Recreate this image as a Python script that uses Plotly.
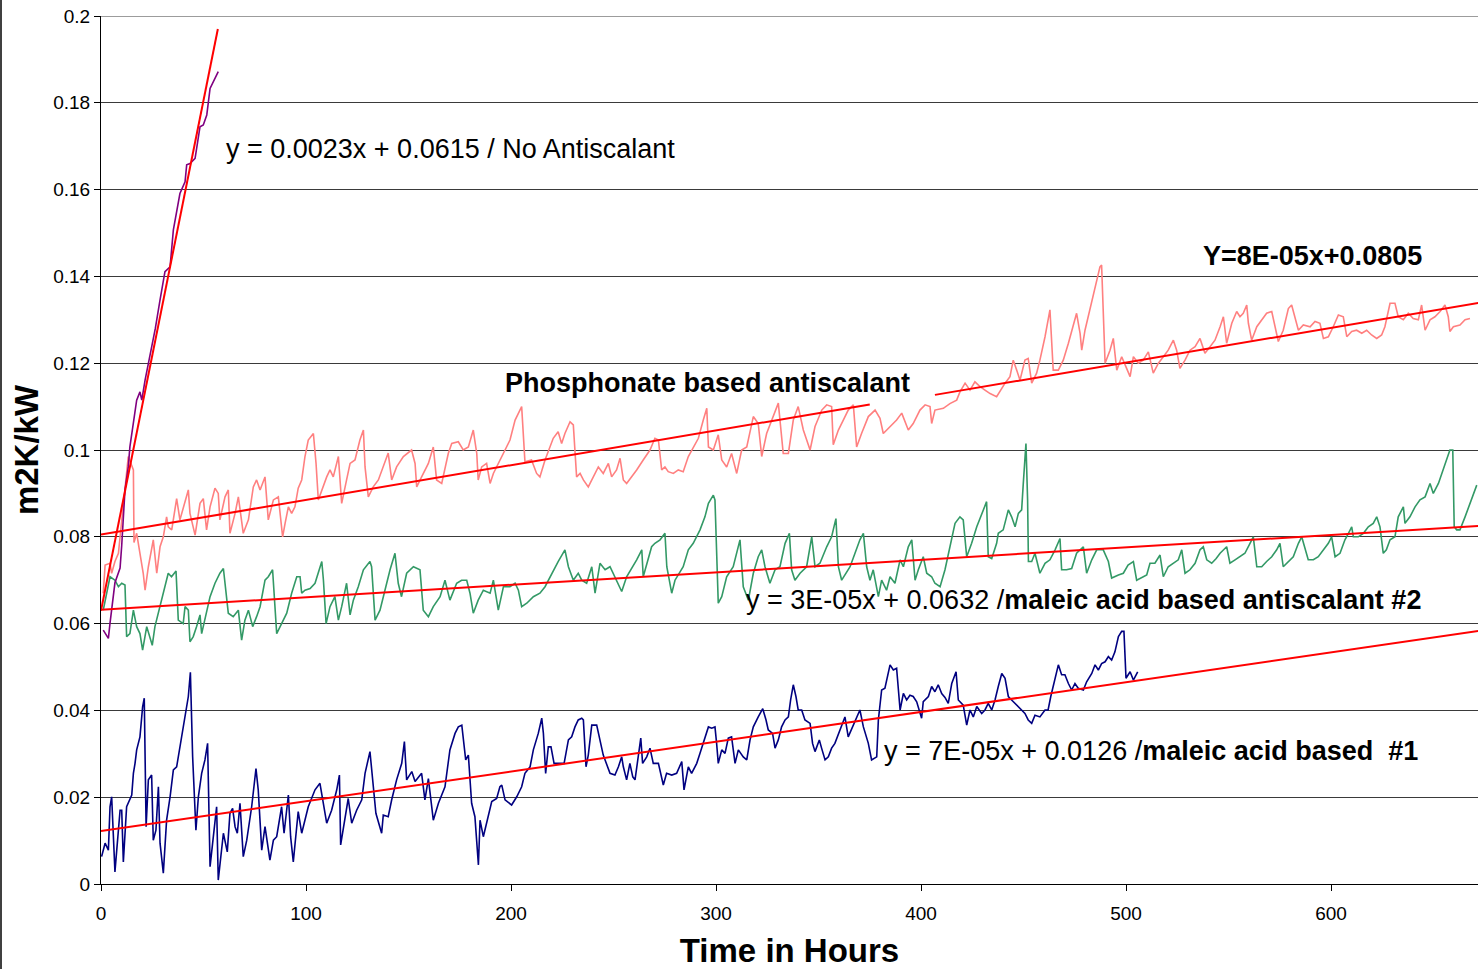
import plotly.graph_objects as go

# ---------------- data ----------------
no_anti_x = [1.1, 3.6, 4.4, 6.8, 9.3, 10.1, 11.7, 13.3, 14.1, 15.8, 17.4, 19.0, 19.9, 21.5, 24.0, 26.5,
             28.8, 31.2, 33.7, 35.3, 38.5, 41.0, 41.8, 43.4, 45.9, 47.5, 48.3, 49.9, 51.6, 53.2, 54.8, 57.2]
no_anti_y = [0.0585, 0.0566, 0.0601, 0.0694, 0.0728, 0.078, 0.0908, 0.0961, 0.1007, 0.1061, 0.1115, 0.1134,
             0.1115, 0.1161, 0.122, 0.128, 0.1346, 0.1411, 0.1422, 0.1507, 0.1591, 0.1618, 0.1657, 0.1660,
             0.1672, 0.1722, 0.1745, 0.1749, 0.1772, 0.1833, 0.1848, 0.1872]

phos_x = [1.1, 2.0, 4.4, 5.2, 6.8, 8.5, 13.3, 15.8, 16.1, 17.4, 19.0, 20.6, 21.5, 23.1, 25.5, 27.2, 28.8,
          30.4, 32.0, 32.8, 34.5, 36.9, 38.5, 41.0, 42.6, 43.4, 45.9, 48.3, 49.9, 51.5, 53.2, 55.6, 57.2,
          58.0, 60.5, 62.1, 62.9, 65.4, 67.0, 69.4, 71.9, 74.3, 75.9, 77.6, 80.0, 81.6, 84.1, 86.5, 87.3,
          88.6, 89.8, 91.4, 93.0, 94.6, 96.2, 97.9, 99.5, 101.1, 103.6, 104.9, 106.0, 107.7, 110.1, 111.7,
          113.3, 115.8, 117.4, 119.8, 121.5, 123.9, 126.3, 128.0, 128.8, 130.4, 132.8, 135.3, 137.7, 140.1,
          141.8, 144.2, 147.5, 151.5, 153.2, 154.0, 156.4, 159.7, 162.1, 163.7, 166.2, 169.4, 171.1, 174.3,
          176.7, 179.2, 181.6, 183.3, 184.0, 185.7, 188.1, 189.8, 191.4, 193.8, 196.3, 199.5, 202.0, 205.2,
          206.8, 210.0, 212.5, 214.1, 216.6, 220.6, 223.0, 224.7, 226.3, 228.8, 230.4, 232.0, 233.7, 235.3,
          237.7, 240.1, 242.6, 245.0, 247.5, 249.1, 251.5, 253.2, 254.8, 256.4, 258.9, 261.3, 264.5, 267.8,
          270.2, 271.9, 273.5, 275.1, 276.7, 279.2, 281.6, 284.0, 286.5, 288.9, 291.4, 293.8, 295.5, 296.3,
          298.7, 301.1, 302.8, 305.2, 307.6, 310.1, 312.5, 315.0, 318.2, 320.6, 322.3, 324.7, 328.0, 330.4,
          332.8, 335.3, 337.7, 340.1, 342.6, 345.9, 348.3, 351.6, 354.0, 356.4, 357.2, 359.7, 362.1, 364.5,
          367.0, 368.6, 371.0, 374.3, 377.6, 380.0, 381.6, 384.9, 388.1, 390.6, 393.8, 396.2, 399.5, 402.0,
          404.4, 405.2, 406.8, 410.9, 414.1, 417.4, 419.0, 421.5, 423.9, 426.3, 428.8, 431.2, 433.7, 436.9,
          439.4, 441.0, 443.4, 445.0, 446.7, 448.3, 450.7, 452.3, 454.0, 456.4, 458.0, 460.5, 462.9, 464.5,
          467.0, 469.4, 471.9, 474.3, 475.9, 477.6, 478.4, 480.0, 482.4, 484.9, 487.3, 488.1, 488.9, 489.8,
          492.2, 493.8, 495.5, 497.9, 500.3, 502.0, 503.6, 506.0, 508.4, 510.9, 513.3, 515.8, 518.2, 520.6,
          523.1, 524.7, 526.3, 528.8, 531.2, 533.7, 536.1, 538.5, 541.0, 543.4, 545.9, 547.5, 549.1, 551.6,
          554.0, 555.6, 557.2, 558.9, 559.7, 561.3, 563.8, 566.2, 568.6, 571.1, 572.7, 574.3, 576.7, 579.2,
          580.8, 582.4, 584.1, 586.5, 589.8, 592.2, 594.6, 596.3, 598.7, 601.1, 603.6, 606.0, 607.7, 610.1,
          612.5, 615.0, 617.4, 619.8, 622.3, 624.7, 626.3, 628.8, 631.2, 632.8, 635.3, 637.7, 640.1, 642.6,
          644.2, 645.9, 648.3, 650.7, 653.2, 655.6, 657.2, 658.0, 659.7, 662.9, 665.4, 667.8]
phos_y = [0.067, 0.0735, 0.0739, 0.0716, 0.0743, 0.0762, 0.0985, 0.0954, 0.0787, 0.0808, 0.0762, 0.0716,
          0.0677, 0.0731, 0.0793, 0.0716, 0.0777, 0.0800, 0.0846, 0.0823, 0.0816, 0.0888, 0.0839, 0.0885,
          0.0908, 0.0854, 0.0804, 0.0877, 0.0888, 0.0816, 0.0869, 0.0912, 0.0900, 0.0839, 0.0892, 0.0908,
          0.0808, 0.0854, 0.0892, 0.0808, 0.0839, 0.0915, 0.0931, 0.0908, 0.0938, 0.0839, 0.0885, 0.0892,
          0.0854, 0.0800, 0.0831, 0.0869, 0.0854, 0.0869, 0.0912, 0.0931, 0.0985, 0.1023, 0.1038, 0.0969,
          0.0885, 0.0908, 0.0938, 0.0954, 0.0938, 0.0985, 0.0877, 0.0931, 0.0969, 0.0977, 0.1023, 0.1046,
          0.0961, 0.0892, 0.0915, 0.0931, 0.0961, 0.0993, 0.0931, 0.0961, 0.0985, 0.1000, 0.0969, 0.0915,
          0.0938, 0.0969, 0.1007, 0.0931, 0.0923, 0.0992, 0.1015, 0.1019, 0.1000, 0.1007, 0.1046, 0.0992,
          0.0931, 0.0961, 0.0969, 0.0923, 0.0946, 0.0969, 0.0992, 0.1023, 0.1069, 0.1100, 0.0973, 0.0977,
          0.0946, 0.0938, 0.0977, 0.1027, 0.1042, 0.1015, 0.1038, 0.1065, 0.1058, 0.0938, 0.0946, 0.0931,
          0.0915, 0.0938, 0.0961, 0.0946, 0.0969, 0.0938, 0.0954, 0.0981, 0.0931, 0.0923, 0.0938, 0.0954,
          0.0977, 0.1000, 0.1027, 0.1023, 0.0954, 0.0961, 0.0950, 0.0946, 0.0954, 0.0950, 0.0985, 0.1007,
          0.1027, 0.1069, 0.1096, 0.1007, 0.1000, 0.1035, 0.0977, 0.0961, 0.0992, 0.0946, 0.1000, 0.1007,
          0.1077, 0.1061, 0.0985, 0.1038, 0.1077, 0.1108, 0.0992, 0.0992, 0.1069, 0.1100, 0.1046, 0.1000,
          0.1054, 0.1092, 0.1104, 0.1100, 0.1012, 0.1046, 0.1069, 0.1092, 0.1104, 0.1007, 0.1038, 0.1077,
          0.1092, 0.1073, 0.1038, 0.1054, 0.1069, 0.1085, 0.1046, 0.1061, 0.1092, 0.1104, 0.1100, 0.1061,
          0.1092, 0.1096, 0.1107, 0.1115, 0.1134, 0.1154, 0.1138, 0.1157, 0.1146, 0.1138, 0.1130, 0.1123,
          0.1142, 0.1154, 0.1169, 0.1207, 0.1184, 0.1161, 0.1207, 0.1211, 0.1154, 0.1177, 0.1207, 0.1261,
          0.1323, 0.1184, 0.1184, 0.1207, 0.1246, 0.1284, 0.1315, 0.1269, 0.1230, 0.1276, 0.1323, 0.1376,
          0.1422, 0.1426, 0.1307, 0.1200, 0.1230, 0.1257, 0.1184, 0.1215, 0.1188, 0.1169, 0.1215, 0.1200,
          0.1207, 0.1226, 0.1177, 0.1200, 0.1215, 0.1230, 0.1253, 0.1230, 0.1188, 0.1207, 0.1230, 0.1238,
          0.1257, 0.1223, 0.1238, 0.1253, 0.1284, 0.1307, 0.1246, 0.1292, 0.1319, 0.1307, 0.1315, 0.1334,
          0.1292, 0.1253, 0.1284, 0.1300, 0.1315, 0.1319, 0.1284, 0.1250, 0.1276, 0.1326, 0.1334, 0.1307,
          0.1276, 0.1288, 0.1284, 0.1296, 0.1292, 0.1257, 0.1261, 0.1284, 0.1311, 0.1307, 0.1261, 0.1273,
          0.1276, 0.1269, 0.1276, 0.1265, 0.1257, 0.1265, 0.1284, 0.1338, 0.1338, 0.1307, 0.1300, 0.1315,
          0.1303, 0.1300, 0.1334, 0.1276, 0.1300, 0.1307, 0.1319, 0.1334, 0.1307, 0.1273, 0.1284, 0.1288,
          0.1300, 0.1303]

mal2_x = [1.1, 2.8, 4.4, 6.8, 8.5, 10.1, 11.7, 12.5, 14.1, 15.8, 17.4, 19.0, 20.3, 22.3, 23.9, 25.0, 26.3,
          28.8, 31.2, 32.8, 34.4, 36.6, 37.7, 40.1, 41.0, 42.6, 43.4, 45.0, 46.6, 48.3, 49.1, 51.5, 53.2,
          55.6, 58.0, 59.7, 62.1, 64.5, 67.0, 68.6, 70.2, 71.9, 74.0, 75.9, 77.6, 80.0, 81.6, 83.7, 84.9,
          85.7, 88.1, 90.6, 93.0, 95.5, 97.1, 97.9, 99.5, 102.0, 104.4, 106.0, 107.7, 108.5, 109.8, 111.7,
          114.1, 115.8, 117.4, 119.8, 121.5, 123.1, 125.5, 128.0, 131.2, 132.0, 133.7, 136.1, 138.5, 141.0,
          143.4, 145.0, 146.6, 149.1, 152.4, 155.6, 157.2, 159.7, 162.1, 165.4, 167.8, 170.2, 173.5, 175.9,
          178.4, 180.0, 181.6, 184.0, 186.5, 189.8, 191.4, 193.8, 196.3, 199.5, 202.0, 203.6, 205.2, 207.7,
          210.9, 214.1, 216.6, 218.2, 220.6, 223.0, 226.3, 228.0, 230.4, 232.8, 234.5, 236.9, 239.4, 241.0,
          243.4, 245.9, 248.3, 250.7, 254.0, 256.4, 258.9, 261.3, 263.8, 264.5, 268.6, 270.2, 272.7, 275.1,
          276.0, 278.4, 280.0, 284.0, 286.5, 288.9, 292.2, 294.6, 296.3, 298.7, 299.5, 301.1, 302.8, 305.2,
          308.4, 310.9, 311.7, 313.3, 315.8, 318.2, 320.6, 322.3, 323.9, 326.3, 328.8, 331.2, 333.7, 335.8,
          336.9, 338.5, 341.0, 344.2, 346.7, 348.3, 350.7, 354.0, 356.4, 358.5, 359.7, 361.3, 365.4, 367.8,
          370.2, 371.9, 373.5, 375.1, 376.7, 379.2, 380.8, 383.2, 384.9, 387.3, 389.8, 391.4, 393.8, 395.5,
          397.1, 398.7, 401.1, 402.8, 405.2, 406.8, 409.3, 411.7, 414.1, 416.6, 419.0, 420.6, 422.3, 424.7,
          427.2, 429.6, 432.0, 432.8, 434.5, 436.9, 437.7, 440.1, 442.6, 444.2, 445.9, 447.5, 449.1, 449.9,
          451.2, 452.0, 452.4, 454.0, 455.6, 458.0, 460.5, 462.9, 465.4, 467.8, 468.6, 471.0, 473.5, 475.9,
          479.2, 480.8, 483.3, 485.7, 488.9, 491.4, 493.0, 496.3, 498.7, 501.0, 503.6, 505.2, 507.6, 510.1,
          511.7, 514.1, 516.6, 518.2, 520.6, 523.1, 525.5, 527.2, 528.8, 531.2, 533.7, 536.1, 537.7, 539.4,
          541.8, 544.0, 545.9, 549.1, 550.7, 553.2, 555.6, 558.0, 560.5, 562.1, 563.8, 566.2, 568.6, 571.1,
          573.5, 575.1, 576.7, 579.2, 581.6, 584.1, 585.7, 588.9, 591.4, 593.8, 596.3, 598.7, 600.3, 602.0,
          604.4, 606.8, 608.5, 610.1, 610.9, 613.3, 615.8, 618.2, 620.6, 622.3, 623.9, 625.5, 627.0, 628.8,
          631.2, 632.8, 635.3, 636.1, 638.5, 641.0, 643.4, 645.9, 648.3, 649.9, 652.4, 654.8, 657.2, 658.0,
          659.4, 660.1, 661.3, 662.9, 665.4, 667.8, 671.1]
mal2_y = [0.0631, 0.0670, 0.0708, 0.0700, 0.0685, 0.0693, 0.0689, 0.0570, 0.0577, 0.0631, 0.0593, 0.0577,
          0.0539, 0.0593, 0.0570, 0.0550, 0.0593, 0.0639, 0.0685, 0.0716, 0.0708, 0.0721, 0.0608, 0.0600,
          0.0639, 0.0631, 0.0558, 0.0570, 0.0593, 0.0620, 0.0577, 0.0624, 0.0662, 0.0693, 0.0716, 0.0727,
          0.0624, 0.0616, 0.0631, 0.0562, 0.0608, 0.0631, 0.0593, 0.0616, 0.0639, 0.0700, 0.0708, 0.0724,
          0.0624, 0.0577, 0.0600, 0.0624, 0.0670, 0.0708, 0.0708, 0.0670, 0.0677, 0.0681, 0.0693, 0.0716,
          0.0743, 0.0700, 0.0600, 0.0639, 0.0662, 0.0608, 0.0639, 0.0693, 0.0620, 0.0654, 0.0685, 0.0724,
          0.0743, 0.0731, 0.0608, 0.0631, 0.0677, 0.0724, 0.0762, 0.0693, 0.0662, 0.0716, 0.0731, 0.0724,
          0.0631, 0.0616, 0.0639, 0.0662, 0.0700, 0.0654, 0.0693, 0.0700, 0.0700, 0.0670, 0.0624, 0.0654,
          0.0677, 0.0670, 0.0700, 0.0631, 0.0685, 0.0685, 0.0693, 0.0677, 0.0639, 0.0647, 0.0662, 0.0670,
          0.0685, 0.0700, 0.0724, 0.0743, 0.0770, 0.0731, 0.0700, 0.0716, 0.0700, 0.0693, 0.0731, 0.0670,
          0.0739, 0.0724, 0.0731, 0.0708, 0.0674, 0.0708, 0.0727, 0.0747, 0.0770, 0.0708, 0.0777, 0.0785,
          0.0793, 0.0808, 0.0731, 0.0670, 0.0700, 0.0731, 0.0770, 0.0785, 0.0816, 0.0846, 0.0877, 0.0896,
          0.0885, 0.0647, 0.0662, 0.0708, 0.0731, 0.0777, 0.0793, 0.0685, 0.0654, 0.0716, 0.0754, 0.0770,
          0.0731, 0.0693, 0.0724, 0.0731, 0.0785, 0.0808, 0.0724, 0.0700, 0.0716, 0.0731, 0.0800, 0.0731,
          0.0739, 0.0777, 0.0800, 0.0842, 0.0731, 0.0700, 0.0731, 0.0762, 0.0793, 0.0808, 0.0731, 0.0700,
          0.0724, 0.0662, 0.0700, 0.0677, 0.0708, 0.0693, 0.0747, 0.0731, 0.0777, 0.0793, 0.0700, 0.0724,
          0.0754, 0.0716, 0.0708, 0.0693, 0.0685, 0.0724, 0.0777, 0.0831, 0.0846, 0.0839, 0.0754, 0.0785,
          0.0823, 0.0854, 0.0881, 0.0754, 0.0750, 0.0785, 0.0808, 0.0816, 0.0862, 0.0846, 0.0823, 0.0854,
          0.0862, 0.0923, 0.1015, 0.0885, 0.0743, 0.0743, 0.0762, 0.0716, 0.0739, 0.0747, 0.0770, 0.0796,
          0.0724, 0.0724, 0.0727, 0.0762, 0.0777, 0.0716, 0.0747, 0.0770, 0.0770, 0.0743, 0.0705, 0.0712,
          0.0716, 0.0735, 0.0743, 0.0700, 0.0705, 0.0712, 0.0739, 0.0739, 0.0758, 0.0708, 0.0731, 0.0739,
          0.0747, 0.0770, 0.0716, 0.0724, 0.0739, 0.0770, 0.0777, 0.0747, 0.0739, 0.0750, 0.0762, 0.0777,
          0.0739, 0.0747, 0.0754, 0.0762, 0.0785, 0.0800, 0.0731, 0.0731, 0.0743, 0.0754, 0.0770, 0.0785,
          0.0731, 0.0743, 0.0754, 0.0785, 0.0800, 0.0747, 0.0747, 0.0754, 0.0770, 0.0785, 0.0800, 0.0754,
          0.0762, 0.0793, 0.0808, 0.0823, 0.0800, 0.0800, 0.0808, 0.0823, 0.0831, 0.0846, 0.0823, 0.0762,
          0.0770, 0.0793, 0.0800, 0.0846, 0.0869, 0.0831, 0.0846, 0.0869, 0.0885, 0.0892, 0.0923, 0.0900,
          0.0923, 0.0954, 0.0985, 0.1000, 0.1000, 0.0823, 0.0816, 0.0816, 0.0846, 0.0877, 0.0919]

mal1_x = [0.3, 2.0, 3.6, 4.4, 5.2, 6.0, 6.8, 9.3, 10.1, 10.9, 12.5, 15.0, 15.8, 16.6, 17.4, 19.0, 20.3,
          21.1, 22.0, 23.1, 24.7, 25.5, 26.8, 28.0, 28.8, 30.4, 32.0, 33.7, 35.3, 36.9, 38.5, 39.4, 41.0,
          42.6, 43.6, 44.7, 46.3, 47.5, 49.1, 50.7, 52.0, 52.8, 53.2, 54.8, 56.4, 57.2, 58.9, 59.7, 61.6,
          62.9, 64.2, 65.4, 66.5, 67.8, 69.4, 71.1, 73.5, 75.6, 76.7, 78.4, 80.0, 82.4, 84.1, 85.7, 88.1,
          89.3, 91.4, 92.5, 93.8, 95.5, 96.2, 97.9, 99.5, 101.1, 104.4, 106.8, 110.1, 112.5, 115.0, 116.3,
          116.9, 119.0, 120.6, 122.3, 124.7, 127.2, 128.8, 131.2, 132.8, 134.1, 136.9, 137.7, 140.1, 141.8,
          144.2, 146.7, 148.0, 149.1, 151.6, 153.2, 156.4, 158.0, 159.7, 162.1, 164.6, 167.8, 170.2, 172.7,
          174.3, 176.0, 177.9, 179.2, 180.8, 182.4, 184.1, 184.9, 186.5, 188.9, 190.6, 193.0, 194.6, 195.5,
          197.1, 200.3, 202.8, 205.2, 206.8, 209.3, 210.9, 213.3, 215.0, 215.8, 216.9, 218.2, 219.5, 221.0,
          223.9, 225.9, 226.8, 228.0, 229.6, 231.2, 232.8, 234.5, 235.3, 236.6, 237.7, 239.4, 241.8, 243.4,
          245.0, 248.3, 250.7, 252.4, 254.0, 254.8, 256.4, 258.0, 259.4, 260.5, 262.1, 263.3, 264.2, 266.2,
          267.8, 269.4, 271.9, 273.5, 274.3, 275.9, 278.4, 280.8, 283.3, 284.4, 286.5, 288.1, 290.6, 292.2,
          293.8, 296.3, 297.9, 299.5, 300.3, 301.1, 302.8, 304.4, 306.0, 307.6, 309.3, 310.9, 313.3, 315.0,
          316.6, 318.2, 320.6, 322.8, 324.4, 325.5, 327.6, 328.8, 330.4, 332.0, 333.7, 335.3, 336.4, 337.7,
          339.0, 340.1, 341.8, 343.4, 345.9, 347.1, 348.3, 350.4, 351.5, 353.2, 354.8, 356.4, 358.0, 360.5,
          362.9, 364.5, 366.7, 368.6, 370.2, 371.9, 373.5, 374.3, 375.9, 378.4, 379.2, 380.8, 382.4, 384.9,
          386.5, 388.1, 389.8, 391.4, 393.0, 394.6, 396.2, 397.9, 400.3, 401.1, 403.6, 405.2, 406.8, 408.4,
          410.1, 411.7, 413.3, 415.0, 417.1, 418.2, 420.6, 422.3, 423.9, 425.5, 427.2, 429.6, 431.2, 432.8,
          434.5, 436.1, 437.7, 439.4, 441.0, 442.6, 444.2, 446.7, 449.1, 450.7, 452.3, 454.0, 455.6, 458.0,
          460.5, 462.0, 463.3, 464.5, 467.0, 468.6, 470.2, 471.9, 473.5, 475.1, 476.7, 479.2, 480.8, 483.3,
          484.9, 486.5, 488.1, 489.8, 491.4, 493.0, 494.6, 496.3, 497.9, 499.0, 500.0, 502.0, 503.6, 505.7]
mal1_y = [0.0063, 0.0094, 0.0078, 0.0178, 0.0201, 0.0124, 0.0028, 0.0170, 0.0170, 0.0051, 0.0178, 0.0205,
          0.0255, 0.0278, 0.0309, 0.0339, 0.0408, 0.0428, 0.0132, 0.0240, 0.0251, 0.0101, 0.0124, 0.0224,
          0.0094, 0.0025, 0.0147, 0.0201, 0.0263, 0.0270, 0.0316, 0.0339, 0.0378, 0.0432, 0.0488, 0.0293,
          0.0124, 0.0201, 0.0255, 0.0286, 0.0324, 0.0178, 0.0040, 0.0109, 0.0178, 0.0009, 0.0086, 0.0117,
          0.0074, 0.0163, 0.0174, 0.0132, 0.0117, 0.0186, 0.0063, 0.0101, 0.0178, 0.0266, 0.0217, 0.0078,
          0.0132, 0.0055, 0.0101, 0.0109, 0.0178, 0.0117, 0.0205, 0.0109, 0.0051, 0.0132, 0.0167, 0.0117,
          0.0147, 0.0178, 0.0217, 0.0232, 0.0140, 0.0170, 0.0217, 0.0251, 0.0090, 0.0147, 0.0197, 0.0140,
          0.0170, 0.0194, 0.0255, 0.0305, 0.0232, 0.0163, 0.0117, 0.0159, 0.0155, 0.0194, 0.0240, 0.0278,
          0.0328, 0.0240, 0.0259, 0.0236, 0.0255, 0.0194, 0.0243, 0.0147, 0.0186, 0.0224, 0.0309, 0.0347,
          0.0362, 0.0366, 0.0286, 0.0297, 0.0186, 0.0155, 0.0044, 0.0147, 0.0109, 0.0155, 0.0190, 0.0197,
          0.0224, 0.0228, 0.0194, 0.0182, 0.0201, 0.0224, 0.0255, 0.0270, 0.0309, 0.0347, 0.0382, 0.0347,
          0.0255, 0.0316, 0.0316, 0.0278, 0.0278, 0.0278, 0.0301, 0.0332, 0.0339, 0.0362, 0.0378, 0.0382,
          0.0378, 0.0270, 0.0297, 0.0366, 0.0366, 0.0332, 0.0297, 0.0255, 0.0251, 0.0270, 0.0293, 0.0270,
          0.0240, 0.0278, 0.0247, 0.0240, 0.0293, 0.0336, 0.0278, 0.0293, 0.0313, 0.0278, 0.0278, 0.0247,
          0.0228, 0.0255, 0.0251, 0.0255, 0.0282, 0.0217, 0.0270, 0.0255, 0.0278, 0.0301, 0.0324, 0.0362,
          0.0359, 0.0362, 0.0324, 0.0278, 0.0309, 0.0301, 0.0336, 0.0339, 0.0278, 0.0309, 0.0293, 0.0286,
          0.0332, 0.0362, 0.0385, 0.0404, 0.0378, 0.0355, 0.0347, 0.0313, 0.0332, 0.0362, 0.0378, 0.0385,
          0.0424, 0.0459, 0.0432, 0.0401, 0.0401, 0.0378, 0.0370, 0.0324, 0.0305, 0.0332, 0.0313, 0.0286,
          0.0293, 0.0313, 0.0324, 0.0355, 0.0385, 0.0339, 0.0362, 0.0385, 0.0401, 0.0362, 0.0339, 0.0324,
          0.0286, 0.0293, 0.0378, 0.0447, 0.0451, 0.0505, 0.0493, 0.0497, 0.0401, 0.0439, 0.0424, 0.0435,
          0.0432, 0.0420, 0.0382, 0.0420, 0.0432, 0.0455, 0.0443, 0.0459, 0.0439, 0.0430, 0.0416, 0.0462,
          0.0489, 0.0424, 0.0412, 0.0366, 0.0401, 0.0385, 0.0409, 0.0393, 0.0401, 0.0416, 0.0401, 0.0424,
          0.0455, 0.0485, 0.0474, 0.0432, 0.0424, 0.0412, 0.0401, 0.0393, 0.0378, 0.0370, 0.0389, 0.0385,
          0.0401, 0.0401, 0.0432, 0.0455, 0.0505, 0.0482, 0.0482, 0.0462, 0.0447, 0.0462, 0.0451, 0.0447,
          0.0466, 0.0485, 0.0505, 0.0493, 0.0508, 0.0512, 0.0524, 0.0516, 0.0535, 0.0570, 0.0582, 0.0582,
          0.0474, 0.0489, 0.0470, 0.0489]

# hand-drawn trend lines (end points)
trend_no_x = [0, 57]
trend_no_y = [0.063, 0.197]
trend_phos1_x = [0, 375]
trend_phos1_y = [0.0805, 0.1105]
trend_phos2_x = [406.8, 672]
trend_phos2_y = [0.1127, 0.1339]
trend_mal2_x = [0, 672]
trend_mal2_y = [0.0632, 0.0825]
trend_mal1_x = [0, 672]
trend_mal1_y = [0.0122, 0.0583]

x_tick_vals = [0, 100, 200, 300, 400, 500, 600]
x_tick_text = ["0", "100", "200", "300", "400", "500", "600"]
y_tick_vals = [0, 0.02, 0.04, 0.06, 0.08, 0.1, 0.12, 0.14, 0.16, 0.18, 0.2]
y_tick_text = ["0", "0.02", "0.04", "0.06", "0.08", "0.1", "0.12", "0.14", "0.16", "0.18", "0.2"]

label_no = "y = 0.0023x + 0.0615 / No Antiscalant"
label_phos_eq = "<b>Y=8E-05x+0.0805</b>"
label_phos = "<b>Phosphonate based antiscalant</b>"
label_mal2 = "y = 3E-05x + 0.0632 /<b>maleic acid based antiscalant #2</b>"
label_mal1 = "y = 7E-05x + 0.0126 /<b>maleic acid based\u00a0 #1</b>"

# ---------------- figure ----------------
FONT = "Liberation Sans, Arial, sans-serif"
W, H = 1484, 969
ML, MR, MT, MB = 101, 6, 16, 85
plot_w = W - ML - MR
plot_h = H - MT - MB

fig = go.Figure()

series = [
    (phos_x, phos_y, "#FF8080", "Phosphonate based antiscalant"),
    (mal2_x, mal2_y, "#339966", "maleic acid based antiscalant #2"),
    (mal1_x, mal1_y, "#000080", "maleic acid based #1"),
    (no_anti_x, no_anti_y, "#800080", "No Antiscalant"),
]
for xs, ys, col, name in series:
    fig.add_trace(go.Scatter(x=xs, y=ys, mode="lines", name=name,
                             line=dict(color=col, width=1.6), hoverinfo="x+y"))

trends = [(trend_no_x, trend_no_y), (trend_phos1_x, trend_phos1_y), (trend_phos2_x, trend_phos2_y),
          (trend_mal2_x, trend_mal2_y), (trend_mal1_x, trend_mal1_y)]
for tx, ty in trends:
    fig.add_trace(go.Scatter(x=tx, y=ty, mode="lines", showlegend=False,
                             line=dict(color="#FF0000", width=2), hoverinfo="skip"))

x_max = plot_w / 2.05

ann_font = dict(family=FONT, size=27, color="#000000")
anns = [
    (label_no, 60.0, 0.1694, "left"),
    (label_phos_eq, 645.4, 0.1447, "right"),
    (label_phos, 196.1, 0.1154, "left"),
    (label_mal2, 313.7, 0.0654, "left"),
    (label_mal1, 381.0, 0.0306, "left"),
]
for txt, ax, ay, anc in anns:
    fig.add_annotation(x=ax, y=ay, text=txt, showarrow=False, xanchor=anc, yanchor="middle",
                       font=ann_font, xref="x", yref="y")

# thin border at the very left of the picture
fig.add_shape(type="line", xref="paper", yref="paper",
              x0=(1 - ML) / plot_w, x1=(1 - ML) / plot_w,
              y0=-MB / plot_h, y1=1 + MT / plot_h,
              line=dict(color="#000000", width=1.5))
# top grid line at the upper end of the value axis
fig.add_shape(type="line", xref="paper", yref="y", x0=0, x1=1, y0=0.2, y1=0.2,
              line=dict(color="#3A3A3A", width=1))

fig.update_layout(
    width=W, height=H,
    margin=dict(l=ML, r=MR, t=MT, b=MB, autoexpand=False),
    paper_bgcolor="#FFFFFF", plot_bgcolor="#FFFFFF",
    showlegend=False,
    font=dict(family=FONT, color="#000000"),
    xaxis=dict(range=[0, x_max], tickvals=x_tick_vals, ticktext=x_tick_text,
               showgrid=False, zeroline=False, showline=True, linecolor="#000000", linewidth=1,
               ticks="outside", ticklen=6, tickcolor="#000000", ticklabelstandoff=6,
               tickfont=dict(family=FONT, size=19, color="#000000"),
               title=dict(text="<b>Time in Hours</b>", standoff=16,
                          font=dict(family=FONT, size=33, color="#000000"))),
    yaxis=dict(range=[0, 0.2], tickvals=y_tick_vals, ticktext=y_tick_text,
               showgrid=True, gridcolor="#3A3A3A", gridwidth=1, zeroline=False,
               showline=True, linecolor="#000000", linewidth=1,
               ticks="outside", ticklen=6, tickcolor="#000000",
               tickfont=dict(family=FONT, size=19, color="#000000"),
               title=dict(text="<b>m2K/kW</b>", standoff=4,
                          font=dict(family=FONT, size=33, color="#000000"))),
)

fig.write_html("out.html", config={"displayModeBar": False},
               post_script="document.body.style.margin='0';")
